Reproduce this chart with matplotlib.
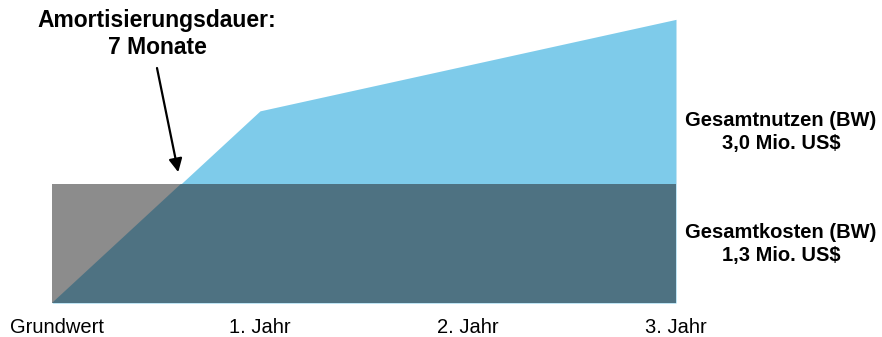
import matplotlib
matplotlib.use("Agg")
import matplotlib.pyplot as plt
import matplotlib.transforms as mtransforms
from matplotlib.patches import Polygon
import numpy as np

plt.rcParams['font.family'] = ['Liberation Sans', 'DejaVu Sans']

categories = ["Grundwert", "1. Jahr", "2. Jahr", "3. Jahr"]
benefit = [0.0, 2.1, 2.6, 3.1]     # cumulative total benefit (Mio. US$)
cost = [1.3, 1.3, 1.3, 1.3]        # total cost (Mio. US$)
payback_label = "Amortisierungsdauer:\n7 Monate"
benefit_label = "Gesamtnutzen (BW)\n3,0 Mio. US$"
cost_label = "Gesamtkosten (BW)\n1,3 Mio. US$"

x = np.arange(len(categories))
benefit_a = np.array(benefit)
cost_a = np.array(cost)

W, H = 882, 337
fig = plt.figure(figsize=(W/100, H/100), dpi=100)
ax = fig.add_axes([52/W, 34/H, 624/W, 293/H])
ax.set_xlim(0, 3)
ax.set_ylim(0, 293/91.5)

c_gray = "#8c8c8c"
c_blue = "#7ecbea"
c_dark = "#4e7282"

ax.fill_between(x, 0, cost_a, color=c_gray, linewidth=0)
ax.fill_between(x, 0, benefit_a, color=c_blue, linewidth=0)
dark = ax.fill_between(x, 0, cost_a, color=c_dark, linewidth=0)
clip_pts = np.vstack([np.column_stack([x, benefit_a]), [[x[-1], 0], [x[0], 0]]])
clip = Polygon(clip_pts, closed=True, transform=ax.transData)
dark.set_clip_path(clip)

# crossing point (payback)
i = np.argmax(benefit_a >= cost_a[0])
xc = x[i-1] + (cost_a[0] - benefit_a[i-1]) / (benefit_a[i] - benefit_a[i-1]) * (x[i] - x[i-1])

for s in ax.spines.values():
    s.set_visible(False)
ax.set_yticks([])
ax.set_xticks(x)
ax.set_xticklabels(categories, fontsize=14.5)
ax.tick_params(axis='x', length=0, pad=11)
first = ax.get_xticklabels()[0]
first.set_transform(first.get_transform() +
                    mtransforms.ScaledTranslation(5/100, 0, fig.dpi_scale_trans))

fig.text(157/W, 1 - 34/H, payback_label, ha='center', va='center',
         fontsize=16.5, fontweight='bold', linespacing=1.2)
ax.annotate("", xy=(xc - 0.012, cost_a[0] + 0.13), xycoords='data',
            xytext=(157/W, 1 - 68/H), textcoords='figure fraction',
            arrowprops=dict(arrowstyle='-|>', color='black', lw=1.6,
                            mutation_scale=20, shrinkA=0, shrinkB=0))

fig.text(781/W, 1 - 132/H, benefit_label, ha='center', va='center',
         fontsize=14.5, fontweight='bold', linespacing=1.3)
fig.text(781/W, 1 - 244/H, cost_label, ha='center', va='center',
         fontsize=14.5, fontweight='bold', linespacing=1.3)

fig.savefig("out.png", dpi=100)
